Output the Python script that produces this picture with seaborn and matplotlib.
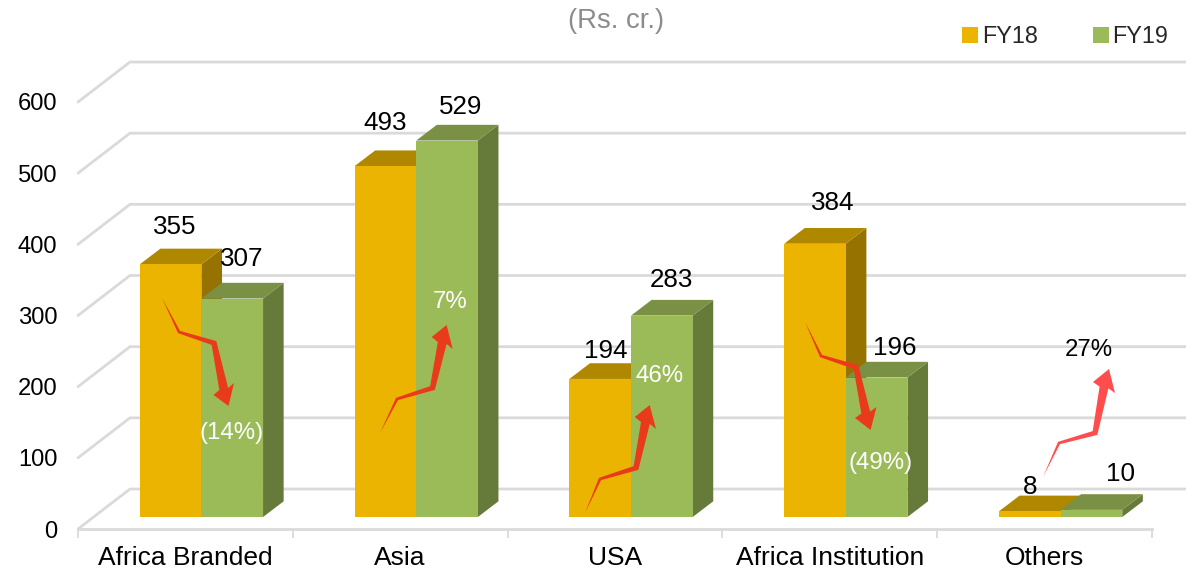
import matplotlib
matplotlib.use("Agg")
import matplotlib.pyplot as plt
from matplotlib.lines import Line2D
from matplotlib.patches import Polygon
from matplotlib.transforms import Affine2D, IdentityTransform
import numpy as np
import pandas as pd
import seaborn as sns

segments = ["Africa Branded", "Asia", "USA", "Africa Institution", "Others"]
fy18 = [355, 493, 194, 384, 8]
fy19 = [307, 529, 283, 196, 10]
growth = ["(14%)", "7%", "46%", "(49%)", "27%"]
y_ticks = [0, 100, 200, 300, 400, 500, 600]

W, H = 1186, 572
DPI = 100

sns.set_theme(style="white")
plt.rcParams["font.family"] = ["Liberation Sans", "DejaVu Sans"]

GRID = "#DADADA"
FACES = {
    "FY18": ("#EBB400", "#B08800", "#967300"),
    "FY19": ("#9BBB59", "#7A9145", "#667A39"),
}
TICK_SIZE = 17.1
VALUE_SIZE = 18.7
GROWTH_SIZE = 17.3

fig = plt.figure(figsize=(W / DPI, H / DPI), dpi=DPI, facecolor="white")


def axes_at(left, zero_y):
    """Axes spanning five categories with the zero line at a given pixel row."""
    return fig.add_axes([left / W, (H - zero_y) / H, 1074 / W, 427 / H])


# Front plane of the 3D frame: value ticks, category labels, floor edge
frame = axes_at(78, 529)
frame.set_xlim(-0.5, 4.5)
frame.set_ylim(0, 600)
frame.set_yticks(y_ticks)
frame.set_xticks(range(5), segments)
frame.set_xticks(np.arange(-0.5, 5), minor=True)
frame.tick_params(axis="y", length=0, pad=15, labelsize=TICK_SIZE, colors="black")
frame.tick_params(axis="x", which="major", length=0, pad=12.5, labelsize=19, colors="black")
frame.tick_params(axis="x", which="minor", bottom=True, length=6.5, width=1.3, color=GRID)
sns.despine(ax=frame, left=True)
frame.spines["bottom"].set_color(GRID)
frame.spines["bottom"].set_linewidth(2)
frame.patch.set_visible(False)

# Side wall and back wall gridlines, stepped back from the front plane
WALL_DX, WALL_DY = 52, 40
for value in y_ticks:
    x0, y0 = frame.transData.transform((-0.5, value))
    frame.add_line(Line2D([x0, x0 + WALL_DX, W + 5], [y0, y0 + WALL_DY, y0 + WALL_DY],
                          transform=IdentityTransform(), color=GRID, lw=2,
                          clip_on=False, zorder=0))

# Bars stand on a plane slightly behind the front edge of the floor
bars_ax = axes_at(94, 517)
bars_ax.set_zorder(2)
table = pd.DataFrame({
    "Segment": segments * 2,
    "Sales": fy18 + fy19,
    "Year": ["FY18"] * 5 + ["FY19"] * 5,
})
sns.barplot(data=table, x="Segment", y="Sales", hue="Year",
            palette={k: v[0] for k, v in FACES.items()},
            width=0.574, gap=0, saturation=1, linewidth=0, edgecolor="none", ax=bars_ax)
bars_ax.set_xlim(-0.5, 4.5)
bars_ax.set_ylim(0, 600)
handles, labels = bars_ax.get_legend_handles_labels()
bars_ax.get_legend().remove()
bars_ax.axis("off")

# Top and side faces for each bar, sized in pixels from the bar's own geometry
BAR_DX, BAR_DY = 20.6, 15.7
for rank, (year, container) in enumerate(zip(["FY18", "FY19"], bars_ax.containers)):
    _, top_color, side_color = FACES[year]
    for bar in container:
        bar.set_zorder(1.5 + rank)
        (xa, ya), (xb, yb) = bars_ax.transData.transform(
            [(bar.get_x(), 0), (bar.get_x() + bar.get_width(), bar.get_height())])
        side = [(xb, ya), (xb, yb), (xb + BAR_DX, yb + BAR_DY), (xb + BAR_DX, ya + BAR_DY)]
        top = [(xa, yb), (xb, yb), (xb + BAR_DX, yb + BAR_DY), (xa + BAR_DX, yb + BAR_DY)]
        for face, color in ((side, side_color), (top, top_color)):
            bars_ax.add_patch(Polygon(face, closed=True, facecolor=color, edgecolor="none",
                                      transform=IdentityTransform(), clip_on=False,
                                      zorder=1 + rank))

pixel_space = Affine2D().scale(1, -1).translate(0, H)


def label_at(x, y, text, color="black", size=GROWTH_SIZE):
    fig.text(x / W, 1 - (y + 1.5) / H, text, color=color, fontsize=size, ha="center",
             va="center", zorder=10)


# Value labels sit above their bars; offsets are pixels from the bar's top centre
offsets_fy18 = [(4, 39), (0, 45), (6, 29), (18, 42), (0, 26)]
offsets_fy19 = [(10, 41), (14, 35), (10, 37), (18, 31), (29, 37)]
for container, values, offsets in zip(bars_ax.containers, (fy18, fy19), (offsets_fy18, offsets_fy19)):
    for bar, value, (dx, dy) in zip(container, values, offsets):
        px, py = bars_ax.transData.transform((bar.get_x() + bar.get_width() / 2, bar.get_height()))
        label_at(px + dx, H - py - dy, str(value), size=VALUE_SIZE)

# Growth labels
growth_spots = [(232, 432, "white"), (450, 300, "white"), (660, 375, "white"),
                (881, 461, "white"), (1089, 348, "black")]
for text, (x, y, color) in zip(growth, growth_spots):
    label_at(x, y, text, color)


def zigzag_arrow(start, knee1, knee2, wing_a, wing_b, tip, color):
    """Tapered three-segment arrow, thin at its tail and widest at the head."""
    base = (np.array(wing_a) + np.array(wing_b)) / 2
    spine = [np.array(p, float) for p in (start, knee1, knee2, base)]
    half_widths = [0, 1.5, 3.0, 4.5]
    left, right = [], []
    for i, point in enumerate(spine):
        before = spine[max(i - 1, 0)]
        after = spine[min(i + 1, 3)]
        along = (after - before) / np.linalg.norm(after - before)
        normal = np.array([-along[1], along[0]])
        left.append(point + normal * half_widths[i])
        right.append(point - normal * half_widths[i])
    near_a = np.linalg.norm(left[-1] - wing_a) < np.linalg.norm(right[-1] - wing_a)
    first, second = (wing_a, wing_b) if near_a else (wing_b, wing_a)
    outline = left + [first, tip, second] + right[::-1]
    fig.add_artist(Polygon(outline, closed=True, facecolor=color, edgecolor="none",
                           transform=pixel_space, zorder=9))


RED = "#EA3A1C"
zigzag_arrow((162, 298), (179, 332), (214, 343), (213.5, 395), (234, 383), (228.5, 406), RED)
zigzag_arrow((380, 433), (397, 399), (432.5, 388), (431.7, 337), (452.7, 349), (446.6, 325), RED)
zigzag_arrow((585, 513), (600, 479), (636, 468), (634.8, 417), (656, 429), (649.7, 405), RED)
zigzag_arrow((805, 322), (821, 356), (856, 367), (855, 418), (876.5, 407), (870.6, 430), RED)
zigzag_arrow((1043, 477), (1059, 443), (1095, 433), (1093, 382), (1115, 393), (1109, 369), "#FF4D4D")

# Unit caption and legend
label_at(616, 20, "(Rs. cr.)", "#8C8C8C", 19.8)
fig.legend(handles, labels, ncol=2, frameon=False, fontsize=16.85,
           loc="upper right", bbox_to_anchor=(1168 / W, 1 - 25 / H), borderpad=0,
           borderaxespad=0, handlelength=0.68, handleheight=0.68, handletextpad=0.15,
           columnspacing=2.35)

fig.savefig("out.png", dpi=DPI)
